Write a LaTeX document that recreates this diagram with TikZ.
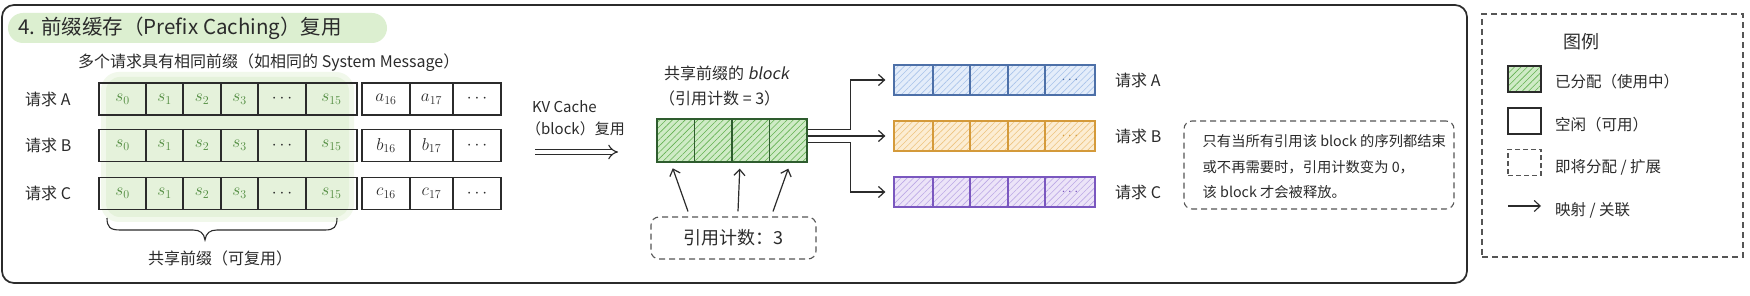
\documentclass[tikz,border=0pt]{standalone}
\usepackage{fontspec}
\setmainfont{Noto Sans CJK SC}
\newfontfamily\slantfont{Noto Sans CJK SC}[FakeSlant=0.18]
\usetikzlibrary{arrows.meta,patterns.meta,calc}

\definecolor{ink}{HTML}{2B2B2B}
\definecolor{titlebg}{HTML}{DCEFD0}
\definecolor{prefbg}{HTML}{E5F2DB}
\definecolor{stext}{HTML}{4E8A3C}
\definecolor{gfill}{HTML}{CFEBC6}
\definecolor{gline}{HTML}{63B152}
\definecolor{gborder}{HTML}{2E5C2E}
\definecolor{bfill}{HTML}{E4EDFA}
\definecolor{bline}{HTML}{A8C3EA}
\definecolor{bborder}{HTML}{4D70A8}
\definecolor{ofill}{HTML}{FCEDD3}
\definecolor{oline}{HTML}{EEC47E}
\definecolor{oborder}{HTML}{D49A3A}
\definecolor{pfill}{HTML}{ECE4F8}
\definecolor{pline}{HTML}{BCA8E6}
\definecolor{pborder}{HTML}{7A57BF}
\definecolor{dashgray}{HTML}{555555}

\tikzset{
  txt/.style={inner sep=0pt, text=ink},
  fs/.style={font=\fontsize{#1}{#1}\selectfont},
  cellbox/.style={draw=ink, line width=1.1pt, inner sep=0pt, minimum height=32pt,
    font=\fontsize{18}{18}\selectfont},
  hatchbox/.style n args={3}{draw=#3, line width=1.3pt, inner sep=0pt,
    preaction={fill=#1},
    pattern={Lines[angle=45,distance=4.5pt,line width=0.6pt]}, pattern color=#2},
  arr/.style={draw=ink, line width=1.2pt, -{Straight Barb[length=6pt,width=11pt]}},
  dblarr/.style={draw=ink, line width=1.1pt, double=white, double distance=4pt, -{Implies}},
  dashbox/.style={draw=dashgray, line width=1.1pt, dash pattern=on 6pt off 4pt, rounded corners=8pt},
  legbox/.style={draw=dashgray, line width=1.1pt, dash pattern=on 6pt off 4pt},
}

\begin{document}
\begin{tikzpicture}[x=1pt,y=-1pt]
\useasboundingbox (0,0) rectangle (1750,296);
\fill[white] (0,0) rectangle (1750,296);

% main frame
\draw[ink, line width=1.7pt, rounded corners=12pt] (2,5) rectangle (1467,283);

% title
\fill[titlebg, rounded corners=15pt] (8,13) rectangle (387,43);
\node[txt, fs=20.5, anchor=west] (title) at (18,28) {4. 前缀缓存（Prefix Caching）复用};

% subtitle
\node[txt, fs=16, anchor=west] (sub) at (78,63) {多个请求具有相同前缀（如相同的 System Message）};

% shared prefix highlight
\fill[prefbg!55, rounded corners=18pt] (101,72) rectangle (354,222);
\fill[prefbg, rounded corners=14pt] (106,77) rectangle (349,217);

% request rows
\foreach \rn/\ry/\rl in {A/99/a, B/145.5/b, C/193.5/c}{
  \node[txt, fs=16, anchor=west] (lab\rn) at (25,\ry) {请求 \rn};
  \foreach \ci/\cx/\cw/\ct/\cc in {
      0/122.5/47/{$s_{0}$}/stext, 1/164.5/37/{$s_{1}$}/stext,
      2/202/38/{$s_{2}$}/stext, 3/239.5/37/{$s_{3}$}/stext,
      4/282/48/{$\cdots$}/ink, 5/331.5/51/{$s_{15}$}/stext,
      6/386/48/{$\rl_{16}$}/ink, 7/431.5/43/{$\rl_{17}$}/ink,
      8/477/48/{$\cdots$}/ink}{
    \node[cellbox, minimum width=\cw pt, text=\cc] (\rn\ci) at (\cx,\ry) {\ct};
  }
}

% brace
\draw[ink, line width=1.1pt] (107,218) .. controls (107,227) and (110,230) .. (120,230)
  -- (193,230) .. controls (200,230) and (204,233) .. (205,240)
  .. controls (206,233) and (210,230) .. (217,230)
  -- (325,230) .. controls (334,230) and (337,227) .. (337,218);
\node[txt, fs=16] (share) at (220,258) {共享前缀（可复用）};

% KV cache reuse arrow
\node[txt, fs=15, anchor=west] (kvt1) at (532,107) {KV Cache};
\node[txt, fs=15, anchor=west] (kvt2) at (526,129) {（block）复用};
\coordinate (kvs) at (535,152);
\coordinate (kve) at (618,152);
\draw[dblarr] (kvs) -- (kve);

% shared block
\node[txt, fs=16, anchor=west] (blab1) at (664,73) {共享前缀的 {\slantfont block}};
\node[txt, fs=16, anchor=west] (blab2) at (659,98) {（引用计数 = 3）};
\foreach \ci/\cx in {1/675.75,2/713.25,3/750.75,4/788.25}{
  \node[hatchbox={gfill}{gline}{gborder}, minimum width=37.5pt, minimum height=43pt] (g\ci) at (\cx,140.5) {};
}

% coloured rows
\foreach \rn/\ry/\fc/\lc/\bc in {b/80/bfill/bline/bborder, o/136/ofill/oline/oborder, p/192/pfill/pline/pborder}{
  \foreach \ci/\cx/\cw/\ct in {1/913.5/39/{}, 2/951.5/37/{}, 3/989/38/{}, 4/1026.5/37/{}, 5/1070/50/{$\cdots$}}{
    \node[hatchbox={\fc}{\lc}{\bc}, minimum width=\cw pt, minimum height=30pt, text=\bc,
      font=\fontsize{15}{15}\selectfont] (\rn\ci) at (\cx,\ry) {\ct};
  }
}

% right request labels
\node[txt, fs=16, anchor=west] (qA) at (1115,80) {请求 A};
\node[txt, fs=16, anchor=west] (qB) at (1115,136) {请求 B};
\node[txt, fs=16, anchor=west] (qC) at (1115,192) {请求 C};

% mapping connectors
\coordinate (tb) at ([xshift=-8pt]b1.west);
\coordinate (to) at ([xshift=-8pt]o1.west);
\coordinate (tp) at ([xshift=-8pt]p1.west);
\draw[arr] ([yshift=11pt]g4.east) -| ([xshift=-35pt]tb) -- (tb);
\draw[arr] (to -| g4.east) -- (to);
\draw[arr] ([yshift=-2pt]g4.east) -| ([xshift=-35pt]tp) -- (tp);

% reference count box
\node[dashbox, minimum width=165pt, minimum height=42pt, text=ink, fs=18] (cnt) at (733.5,238) {引用计数：3};
\draw[arr] ($(cnt.north)+(-45.5,-5)$) -- ($(g1.south)+(-3,6)$);
\draw[arr] ($(cnt.north)+(4.5,-5)$) -- ($(g3.south)+(-11,6)$);
\draw[arr] ($(cnt.north)+(39.5,-5)$) -- ($(g4.south)+(0,6)$);

% note
\node[dashbox, minimum width=270pt, minimum height=88pt] (note) at (1319,165) {};
\node[txt, anchor=west, align=left, font=\fontsize{14.3}{25.5}\selectfont] (notetext) at ([xshift=19pt,yshift=-2pt]note.west)
  {只有当所有引用该 block 的序列都结束\\或不再需要时，引用计数变为 0，\\该 block 才会被释放。};

% legend
\node[legbox, minimum width=261pt, minimum height=243pt] (leg) at (1612.5,135.5) {};
\node[txt, fs=18] (legt) at (1581,42) {图例};
\node[hatchbox={gfill}{gline}{ink}, line width=1.1pt, minimum width=33pt, minimum height=26pt] (lg1) at (1524.5,79) {};
\node[draw=ink, line width=1.1pt, minimum width=33pt, minimum height=26pt] (lg2) at (1524.5,121) {};
\node[legbox, minimum width=33pt, minimum height=26pt, dash pattern=on 5pt off 3pt] (lg3) at (1524.5,162.5) {};
\coordinate (la1) at (1508,206);
\coordinate (la2) at (1541,206);
\draw[arr, line width=1.1pt] (la1) -- (la2);
\node[txt, fs=15.5, anchor=west] (lt1) at (1555,82) {已分配（使用中）};
\node[txt, fs=15.5, anchor=west] (lt2) at (1555,125) {空闲（可用）};
\node[txt, fs=15.5, anchor=west] (lt3) at (1555,167) {即将分配 / 扩展};
\node[txt, fs=15.5, anchor=west] (lt4) at (1555,210) {映射 / 关联};
\end{tikzpicture}
\end{document}
